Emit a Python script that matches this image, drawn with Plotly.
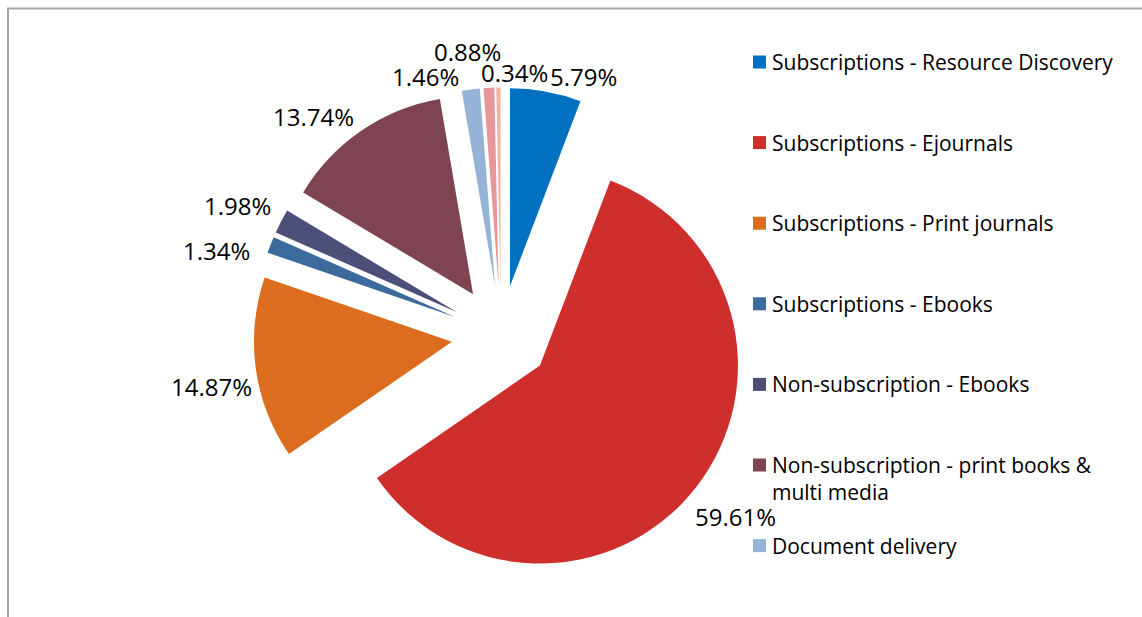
import math
import textwrap
import plotly.graph_objects as go

categories = [
    "Subscriptions - Resource Discovery",
    "Subscriptions - Ejournals",
    "Subscriptions - Print journals",
    "Subscriptions - Ebooks",
    "Non-subscription - Ebooks",
    "Non-subscription - print books & multi media",
    "Document delivery",
    "Other costs",
    "Miscellaneous",
]
shares = [5.79, 59.61, 14.87, 1.34, 1.98, 13.74, 1.46, 0.88, 0.34]
colors = ["#0070C0", "#CF2F2C", "#DD6D1E", "#3D6A9C", "#4C5079",
          "#7F4452", "#95B3D7", "#E6979A", "#F4B0A4"]
# label nudges (px) from each slice's outer mid point, mimicking the
# original chart's collision-avoided label placement
label_offsets = [(38, -16), (40, 28), (-44, 17), (-54, 5), (-44, -17),
                 (-48, -15), (-45, -14), (-21, -37), (16, -16)]

W, H = 1142, 617
FONT = "Open Sans"

# pie geometry (pixels)
cx, cy, rad, pull = 501, 335, 198, 0.25
half = rad * (1 + pull)

fig = go.Figure(go.Pie(
    labels=categories,
    values=shares,
    sort=False,
    direction="clockwise",
    rotation=0,
    pull=[pull] * len(shares),
    marker=dict(colors=colors, line=dict(width=0)),
    textinfo="none",
    automargin=False,
    showlegend=False,
    hoverinfo="label+value",
    domain=dict(x=[(cx - half) / W, (cx + half) / W],
                y=[(H - cy - half) / H, (H - cy + half) / H]),
))

shapes = [dict(type="rect", xref="paper", yref="paper",
               x0=8 / W, x1=1.01, y0=-0.01, y1=1 - 8.5 / H,
               line=dict(color="#A6A6A6", width=2), fillcolor="rgba(0,0,0,0)")]
annotations = []

# percentage labels positioned from the slice angles
total = sum(shares)
cum = 0.0
for v, (dx, dy) in zip(shares, label_offsets):
    mid = (cum + v / 2) / total * 2 * math.pi
    cum += v
    px = cx + half * math.sin(mid) + dx
    py = cy - half * math.cos(mid) + dy + 1
    annotations.append(dict(xref="paper", yref="paper", x=px / W, y=1 - py / H,
                            xanchor="center", yanchor="middle",
                            text=f"{v:.2f}%", showarrow=False,
                            font=dict(family=FONT, size=24, color="#000000")))

# custom legend, one entry per category
y_px = 62
step = 80.6
for name, col in zip(categories, colors):
    lines = textwrap.wrap(name, 34)
    if y_px > H - 10:
        break
    shapes.append(dict(type="rect", xref="paper", yref="paper",
                       x0=753 / W, x1=766 / W,
                       y0=1 - (y_px + 6.5) / H, y1=1 - (y_px - 6.5) / H,
                       line=dict(width=0), fillcolor=col))
    annotations.append(dict(xref="paper", yref="paper", x=770 / W,
                            y=1 - (y_px - 16) / H, xanchor="left", yanchor="top",
                            text="<br>".join(lines), showarrow=False, align="left",
                            font=dict(family=FONT, size=21, color="#000000")))
    y_px += step

fig.update_layout(
    width=W, height=H,
    margin=dict(l=0, r=0, t=0, b=0, pad=0, autoexpand=False),
    paper_bgcolor="white",
    shapes=shapes,
    annotations=annotations,
)

fig.write_html("out.html", config={"displayModeBar": False},
               post_script="document.body.style.margin='0';document.body.style.overflow='hidden';")
